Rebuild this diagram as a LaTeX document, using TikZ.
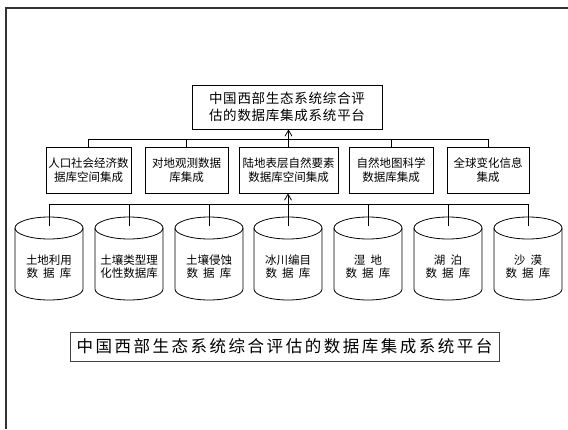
\documentclass[tikz,border=0pt]{standalone}
\usepackage{fontspec}
\setmainfont{Noto Sans CJK SC}
\newlength\mycjkgap
\setlength\mycjkgap{0pt}
\count255="4E00
\loop
  \XeTeXcharclass\count255=7
  \advance\count255 by 1
\ifnum\count255<"A000 \repeat
\XeTeXinterchartokenstate=1
\XeTeXinterchartoks 7 7 = {\hskip\mycjkgap\relax}
\newcommand\spreadline[2]{\makebox[#1][s]{\setlength\mycjkgap{0pt plus 1fil}#2}}
\usetikzlibrary{arrows.meta,calc}
\begin{document}
\begin{tikzpicture}[x=1pt,y=1pt,
  line width=0.8pt,
  box/.style={draw, rectangle, inner sep=0pt, align=center,
    font=\fontsize{11.5}{14}\selectfont},
  topbox/.style={box, font=\fontsize{13.5}{17}\selectfont},
  cylbody/.style={draw, line width=0.8pt},
  cyltext/.style={align=center, inner sep=0pt, font=\fontsize{11.5}{13}\selectfont},
  link/.style={draw, line width=0.8pt},
  arr/.style={link, -{Straight Barb[length=6pt,width=7pt]}}
]
\useasboundingbox (0,0) rectangle (568,-429);
\draw[line width=1.4pt, black!80] (6,-429) -- (6,-8) -- (568,-8);

% top box
\node[topbox, minimum width=190pt, minimum height=44pt] (top) at (287,-107)
  {\spreadline{156pt}{中国西部生态系统综合评}\\\spreadline{156pt}{估的数据库集成系统平台}};

% row 2 boxes
\node[box, minimum width=85pt, minimum height=46pt] (b1) at (88.5,-170) {人口社会经济数\\据库空间集成};
\node[box, minimum width=83pt, minimum height=46pt] (b2) at (186.5,-170) {对地观测数据\\库集成};
\node[box, minimum width=99pt, minimum height=46pt] (b3) at (288.5,-170) {陆地表层自然要素\\数据库空间集成};
\node[box, minimum width=84pt, minimum height=46pt] (b4) at (391,-170) {自然地图科学\\数据库集成};
\node[box, minimum width=82pt, minimum height=46pt] (b5) at (488,-170) {全球变化信息\\集成};

% bus 1
\coordinate (bus1L) at (b1.north |- 0,-139);
\coordinate (bus1R) at (b5.north |- 0,-139);
\draw[link] (bus1L) -- (bus1R);
\draw[link] (b1.north) -- (bus1L);
\draw[link] (b2.north) -- (b2.north |- bus1L);
\draw[link] (b4.north) -- (b4.north |- bus1L);
\draw[link] (b5.north) -- (bus1R);
\draw[arr] (b3.north) -- (b3.north |- top.south);

% cylinders
\foreach \i/\cx/\txt in {1/49/{土地利用\\数\hspace{0.45em}据\hspace{0.45em}库},
  2/129/{土壤类型理\\化性数据库},
  3/209/{土壤侵蚀\\数\hspace{0.45em}据\hspace{0.45em}库},
  4/288/{冰川编目\\数\hspace{0.45em}据\hspace{0.45em}库},
  5/368/{湿\hspace{0.45em}地\\数\hspace{0.45em}据\hspace{0.45em}库},
  6/448/{湖\hspace{0.45em}泊\\数\hspace{0.45em}据\hspace{0.45em}库},
  7/528/{沙\hspace{0.45em}漠\\数\hspace{0.45em}据\hspace{0.45em}库}}{
  \coordinate (c\i) at (\cx,-228);
  \draw[cylbody] (\cx-34,-228) -- (\cx-34,-289)
     arc[start angle=180,end angle=360,x radius=34pt,y radius=11pt] -- (\cx+34,-228);
  \draw[cylbody] (c\i) ellipse [x radius=34pt, y radius=11pt];
  \node[cyltext] (t\i) at (\cx,-266.5) {\txt};
}

% bus 2
\coordinate (bus2L) at (c1 |- 0,-204);
\coordinate (bus2R) at (c7 |- 0,-204);
\draw[link] (bus2L) -- (bus2R);
\foreach \i in {1,2,3,5,6,7}{
  \draw[link] ($(c\i)+(0,2)$) -- (c\i |- bus2L);
}
\draw[arr] ($(c4)+(0,2)$) -- (c4 |- b3.south);

% bottom box
\node[draw=black!75, line width=0.9pt, inner sep=0pt, minimum width=429pt, minimum height=29pt,
  font=\fontsize{16.5}{18}\selectfont] (bottom) at (284.5,-346.5)
  {\spreadline{416pt}{中国西部生态系统综合评估的数据库集成系统平台}};
\end{tikzpicture}
\end{document}
